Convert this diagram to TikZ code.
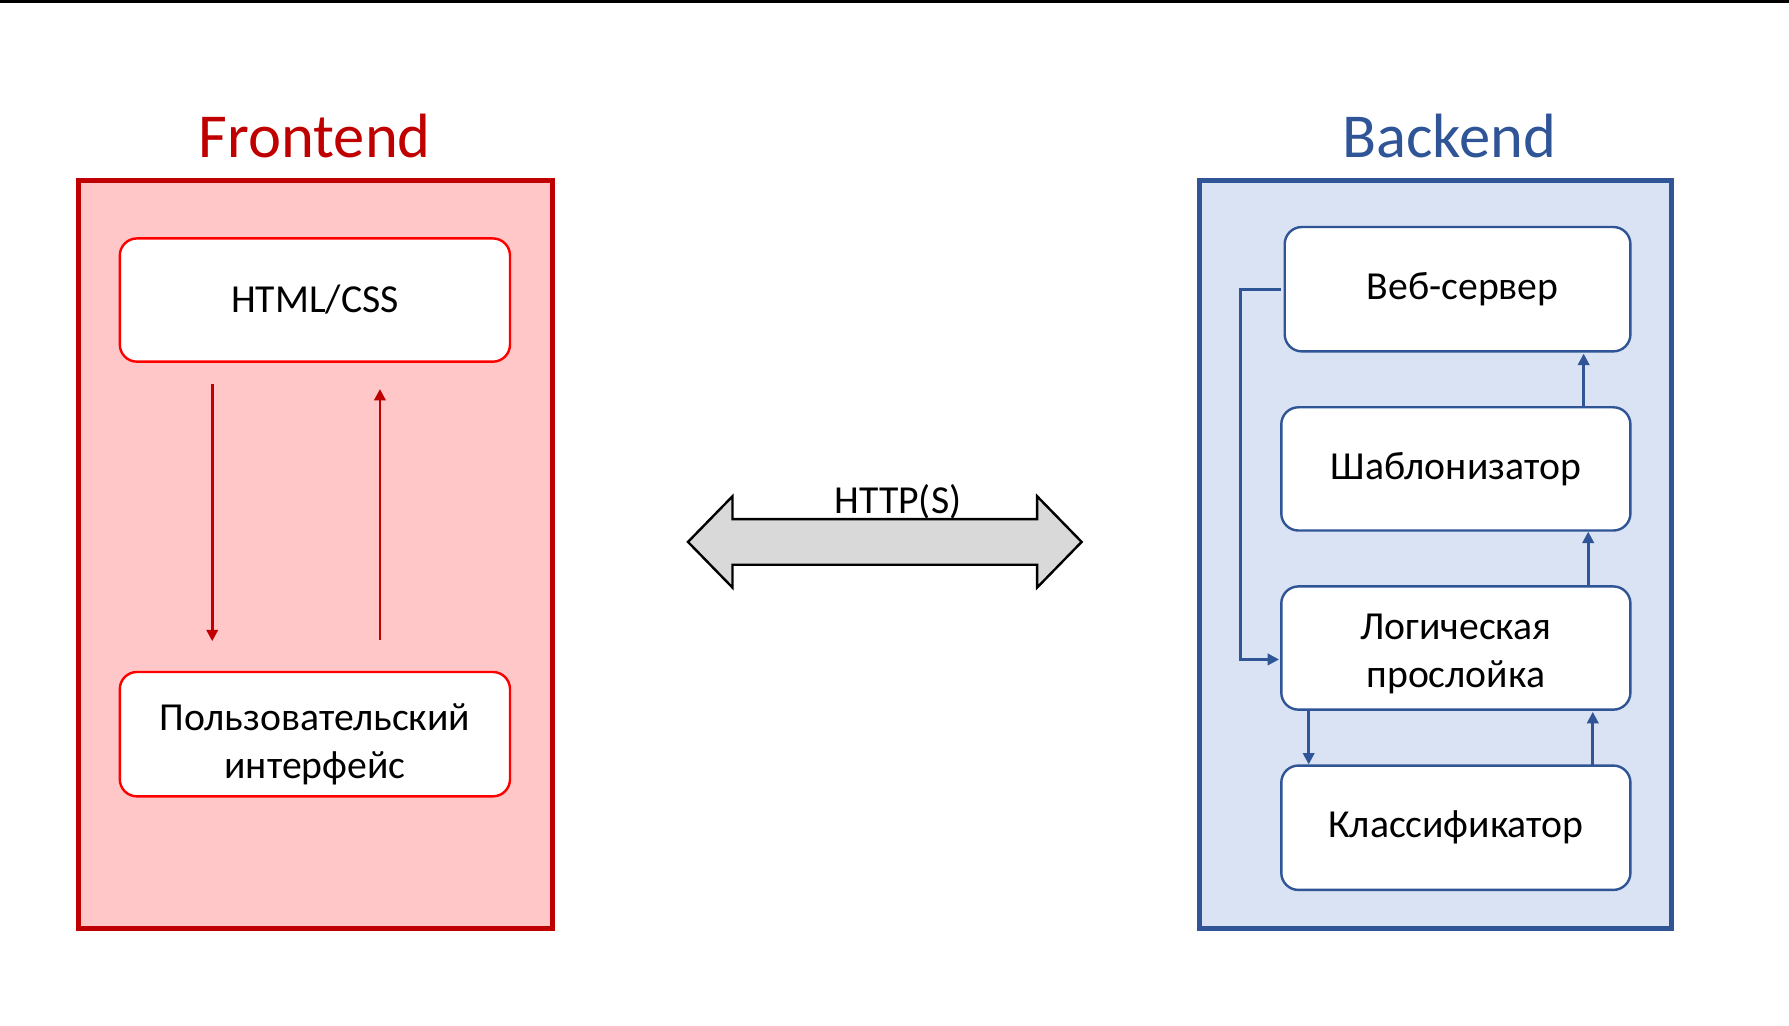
\documentclass[tikz,border=0pt]{standalone}
\usepackage{fontspec}
\setmainfont{Carlito}
\usetikzlibrary{arrows.meta}
\definecolor{frred}{HTML}{C00000}
\definecolor{frline}{HTML}{FF0000}
\definecolor{frfill}{HTML}{FFC7C7}
\definecolor{bkblue}{HTML}{2F5597}
\definecolor{bkfill}{HTML}{DAE3F3}
\definecolor{shaftgray}{HTML}{D9D9D9}
\tikzset{
  zone/.style={draw, line width=1.3pt, inner sep=0pt, outer sep=0pt},
  modul/.style={draw, fill=white, rounded corners=0.15cm, line width=0.6pt, align=center, inner sep=0pt, outer sep=0pt, font=\fontsize{9.9pt}{12pt}\selectfont},
  titul/.style={anchor=base, font=\fontsize{15.6pt}{18pt}\selectfont},
  strelka/.style={line width=0.65pt, -{Triangle[length=0.1cm,width=0.1cm]}},
}

\begin{document}
\begin{tikzpicture}
  \useasboundingbox (0,0) rectangle (15.68,8.99);
  %верхняя линия
  \draw[line width=0.7pt] (0,8.98) -- (15.68,8.98);

  %frontend
  \node[titul, text=frred] (fronttitle) at (2.76,7.61) {Frontend};
  \node[zone, draw=frred, fill=frfill, minimum width=4.15cm, minimum height=6.56cm] (front) at (2.765,4.13) {};
  \node[modul, draw=frline, minimum width=3.42cm, minimum height=1.08cm] (html) at (2.76,6.36) {HTML/CSS};
  \node[modul, draw=frline, minimum width=3.42cm, minimum height=1.09cm] (ui) at (2.76,2.555) {\rule{0pt}{0.42cm}Пользовательский\\интерфейс};
  \draw[strelka, frred, shorten <=0.2cm, shorten >=0.27cm] ([xshift=-0.9cm]html.south) -- ([xshift=-0.9cm]ui.north);
  \draw[strelka, frred, shorten <=0.28cm, shorten >=0.24cm] ([xshift=0.57cm]ui.north) -- ([xshift=0.57cm]html.south);

  %HTTP(S)
  \draw[line width=0.6pt, fill=shaftgray] (6.03,4.24) -- (6.42,4.64) -- (6.42,4.44) -- (9.09,4.44) -- (9.09,4.64) -- (9.48,4.24)
    -- (9.09,3.84) -- (9.09,4.04) -- (6.42,4.04) -- (6.42,3.84) -- cycle;
  \node[anchor=base, font=\fontsize{9.9pt}{12pt}\selectfont] (httplbl) at (7.87,4.49) {HTTP(S)};

  %backend
  \node[titul, text=bkblue] (backtitle) at (12.70,7.61) {Backend};
  \node[zone, draw=bkblue, fill=bkfill, minimum width=4.14cm, minimum height=6.56cm] (back) at (12.58,4.13) {};
  \node[modul, draw=bkblue, minimum width=3.03cm, minimum height=1.09cm] (web) at (12.775,6.455) {\hspace*{0.09cm}Веб-сервер};
  \node[modul, draw=bkblue, minimum width=3.06cm, minimum height=1.08cm] (shab) at (12.76,4.88) {Шаблонизатор};
  \node[modul, draw=bkblue, minimum width=3.06cm, minimum height=1.08cm] (logic) at (12.76,3.31) {\rule{0pt}{0.32cm}Логическая\\прослойка};
  \node[modul, draw=bkblue, minimum width=3.06cm, minimum height=1.09cm] (klass) at (12.76,1.735) {Классификатор};

  \draw[strelka, bkblue, shorten >=0.02cm] ([xshift=1.12cm]shab.north) -- ([xshift=1.12cm]shab.north |- web.south);
  \draw[strelka, bkblue, shorten >=0.01cm] ([xshift=1.16cm]logic.north) -- ([xshift=1.16cm]logic.north |- shab.south);
  \draw[strelka, bkblue, shorten >=0.01cm] ([xshift=-1.29cm]logic.south) -- ([xshift=-1.29cm]logic.south |- klass.north);
  \draw[strelka, bkblue, shorten >=0.02cm] ([xshift=1.20cm]klass.north) -- ([xshift=1.20cm]klass.north |- logic.south);
  \draw[strelka, bkblue, shorten <=0.03cm, shorten >=0.02cm] (web.west) -- ++(-0.39,0) |- ([yshift=-0.1cm]logic.west);
\end{tikzpicture}
\end{document}
